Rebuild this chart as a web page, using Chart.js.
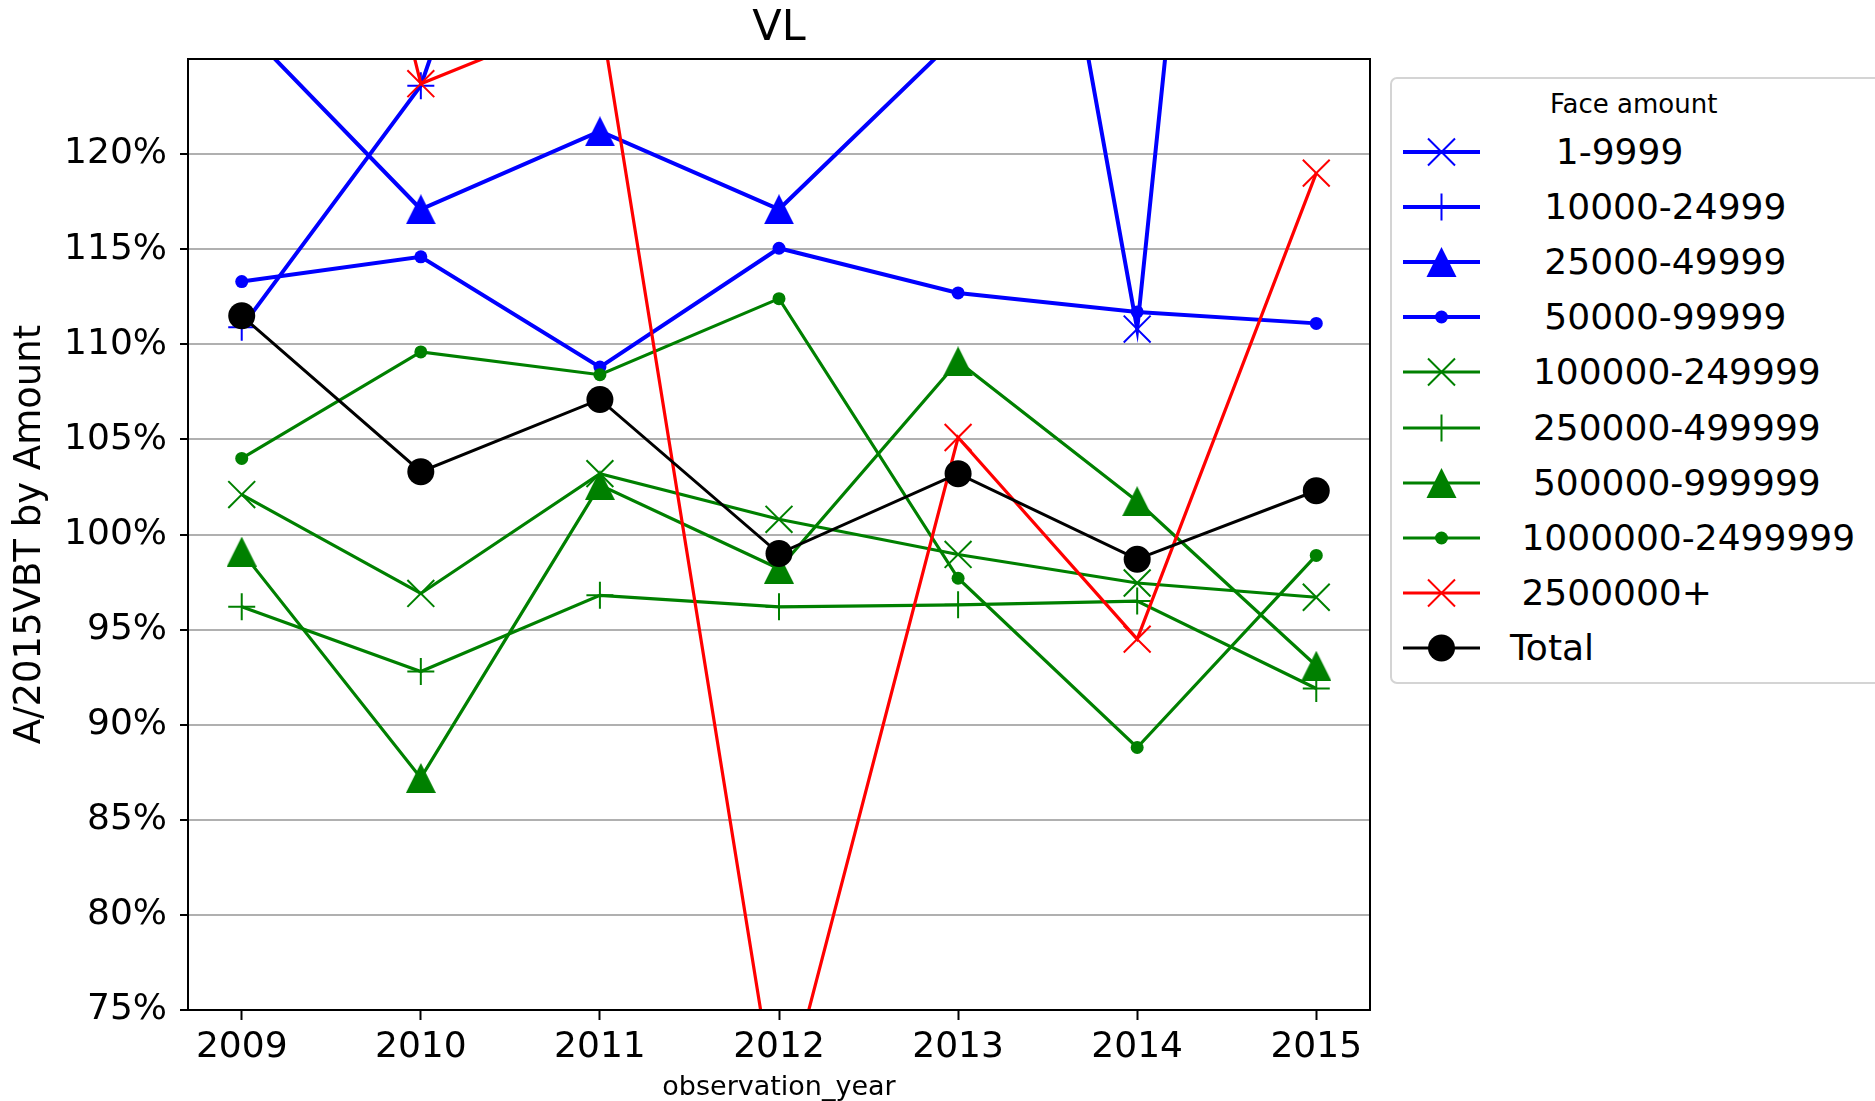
<!DOCTYPE html>
<html>
<head>
<meta charset="utf-8">
<script src="https://cdn.jsdelivr.net/npm/chart.js@4/dist/chart.umd.min.js"></script>
<style>
html,body{margin:0;padding:0;background:#fff;}
#wrap{position:relative;width:1875px;height:1101px;overflow:hidden;background:#fff;}
#c{position:absolute;left:0;top:0;}
#legend{position:absolute;left:1390px;top:77px;width:520px;height:607px;border:2px solid #d4d4d4;border-radius:7px;box-sizing:border-box;background:#fff;font-family:'DejaVu Sans';color:#000;}
#legend .ttl{position:absolute;white-space:pre;font-size:26px;line-height:30px;}
#legend .row{position:absolute;left:0;height:40px;}
#legend .row svg{position:absolute;left:11px;top:0;}
#legend .row span{position:absolute;left:118px;top:0;white-space:pre;font-size:36px;line-height:40px;}
</style>
</head>
<body>
<div id="wrap">
  <canvas id="c" width="1875" height="1101"></canvas>
  <div id="legend"></div>
</div>
<script>
// ---- data ----
const years = [2009, 2010, 2011, 2012, 2013, 2014, 2015];
const yTickValues = [75, 80, 85, 90, 95, 100, 105, 110, 115, 120];
const chartTitle = 'VL';
const xTitle = 'observation_year';
const yTitle = 'A/2015VBT by Amount';
const legendTitle = 'Face amount';
const seriesNames = ['1-9999', '10000-24999', '25000-49999', '50000-99999', '100000-249999',
  '250000-499999', '500000-999999', '1000000-2499999', '2500000+', 'Total'];
const labelIndent = [4, 3, 3, 3, 2, 2, 2, 1, 1, 0];

// values in percent (off-chart values estimated from line slopes; null = not visible)
const s1_9999        = [null, null, null, null, 163.0, 110.8, 202.0];
const s10000_24999   = [110.9, 123.6, 151.0, null, null, null, null];
const s25000_49999   = [126.8, 117.1, 121.2, 117.1, 126.2, null, null];
const s50000_99999   = [113.3, 114.6, 108.8, 115.05, 112.7, 111.7, 111.1];
const s100000_249999 = [102.1, 96.9, 103.2, 100.8, 98.95, 97.45, 96.7];
const s250000_499999 = [96.2, 92.8, 96.8, 96.2, 96.3, 96.5, 91.9];
const s500000_999999 = [99.1, 87.2, 102.6, 98.2, 109.1, 101.75, 93.1];
const s1000000_2499999 = [104.0, 109.6, 108.4, 112.4, 97.7, 88.8, 98.9];
const s2500000plus   = [162.0, 123.7, 127.5, 69.0, 105.1, 94.5, 119.0];
const sTotal         = [111.5, 103.3, 107.1, 99.0, 103.2, 98.7, 102.3];

const seriesValues = [s1_9999, s10000_24999, s25000_49999, s50000_99999, s100000_249999,
  s250000_499999, s500000_999999, s1000000_2499999, s2500000plus, sTotal];

// ---- styles ----
const BLUE = '#0000ff', GREEN = '#008000', RED = '#ff0000', BLACK = '#000000';
const colors = [BLUE, BLUE, BLUE, BLUE, GREEN, GREEN, GREEN, GREEN, RED, BLACK];
const markers = ['x', '+', '^', 'o', 'x', '+', '^', 'o', 'x', 'O'];
const lineWidths = [4, 4, 4, 4, 3.2, 3.2, 3.2, 3.2, 3.2, 3];

function triCanvas(color) {
  const c = document.createElement('canvas');
  c.width = 30; c.height = 30;
  const g = c.getContext('2d');
  g.fillStyle = color;
  g.beginPath(); g.moveTo(15, 0); g.lineTo(0, 30); g.lineTo(30, 30); g.closePath(); g.fill();
  return c;
}
function markerOpts(m, color) {
  if (m === 'x') return {pointStyle: 'crossRot', pointRadius: 19, pointBorderWidth: 2};
  if (m === '+') return {pointStyle: 'cross', pointRadius: 13.5, pointBorderWidth: 2};
  if (m === '^') return {pointStyle: triCanvas(color), pointRadius: 15, pointBorderWidth: 0};
  if (m === 'o') return {pointStyle: 'circle', pointRadius: 6.5, pointBorderWidth: 0};
  return {pointStyle: 'circle', pointRadius: 13.5, pointBorderWidth: 0};
}

const n = seriesNames.length;
const datasets = seriesNames.map((name, i) => Object.assign({
  label: name,
  data: years.map((yr, j) => ({x: yr, y: seriesValues[i][j]})),
  borderColor: colors[i],
  backgroundColor: colors[i],
  pointBorderColor: colors[i],
  pointBackgroundColor: colors[i],
  borderWidth: lineWidths[i],
  tension: 0,
  spanGaps: false,
  order: n - i
}, markerOpts(markers[i], colors[i])));

const framePlugin = {
  id: 'frame',
  afterDatasetsDraw(chart) {
    const a = chart.chartArea, ctx = chart.ctx;
    ctx.save();
    ctx.strokeStyle = '#000'; ctx.lineWidth = 2;
    ctx.strokeRect(a.left, a.top, a.right - a.left, a.bottom - a.top);
    ctx.restore();
  }
};

Chart.defaults.font.family = "'DejaVu Sans'";
Chart.defaults.color = '#000';

new Chart(document.getElementById('c'), {
  type: 'line',
  data: {datasets},
  plugins: [framePlugin],
  options: {
    responsive: false,
    animation: false,
    events: [],
    layout: {padding: {left: 0, top: 0, right: 505, bottom: 0}},
    plugins: {
      legend: {display: false},
      tooltip: {enabled: false},
      title: {display: true, text: chartTitle, fullSize: false, color: '#000',
        font: {size: 43, weight: 'normal', lineHeight: 1.2}, padding: {top: 3, bottom: 4.4}}
    },
    scales: {
      x: {
        type: 'linear', min: 2008.7, max: 2015.3,
        afterBuildTicks: s => { s.ticks = years.map(v => ({value: v})); },
        afterFit: s => { s.height = 91; },
        ticks: {callback: v => String(v), font: {size: 36}, color: '#000', padding: 6, maxRotation: 0, autoSkip: false},
        grid: {drawOnChartArea: false, drawTicks: true, tickLength: 10, tickColor: '#000', tickWidth: 2},
        border: {display: true, color: '#000', width: 2},
        title: {display: true, text: xTitle, color: '#000', font: {size: 27, lineHeight: 1.0}, padding: {top: 0, bottom: 0}}
      },
      y: {
        type: 'linear', min: 75, max: 125,
        afterBuildTicks: s => { s.ticks = yTickValues.map(v => ({value: v})); },
        afterFit: s => { s.width = 188; },
        ticks: {callback: v => v + '%', font: {size: 36}, color: '#000', padding: 13},
        grid: {color: '#b0b0b0', lineWidth: 2, drawTicks: true, tickLength: 8, tickColor: '#000', tickWidth: 2},
        border: {display: true, color: '#000', width: 2},
        title: {display: true, text: yTitle, color: '#000', font: {size: 37}, padding: {top: 8, bottom: 0}}
      }
    }
  }
});

// ---- legend (HTML) ----
function symbolSVG(m, color, lw) {
  const W = 77, H = 40, cx = 38.5, cy = 20;
  let mk = '';
  if (m === 'x') mk = `<path d="M${cx-13.5} ${cy-13.5}L${cx+13.5} ${cy+13.5}M${cx-13.5} ${cy+13.5}L${cx+13.5} ${cy-13.5}" stroke="${color}" stroke-width="2"/>`;
  else if (m === '+') mk = `<path d="M${cx-13.5} ${cy}L${cx+13.5} ${cy}M${cx} ${cy-13.5}L${cx} ${cy+13.5}" stroke="${color}" stroke-width="2"/>`;
  else if (m === '^') mk = `<polygon points="${cx},${cy-15} ${cx-15},${cy+15} ${cx+15},${cy+15}" fill="${color}"/>`;
  else if (m === 'o') mk = `<circle cx="${cx}" cy="${cy}" r="6.5" fill="${color}"/>`;
  else mk = `<circle cx="${cx}" cy="${cy}" r="13.5" fill="${color}"/>`;
  return `<svg width="${W}" height="${H}" viewBox="0 0 ${W} ${H}"><line x1="0" y1="${cy}" x2="${W}" y2="${cy}" stroke="${color}" stroke-width="${lw}"/>${mk}</svg>`;
}
const leg = document.getElementById('legend');
let html = `<div class="ttl" style="left:158px;top:10px;">${legendTitle}</div>`;
seriesNames.forEach((name, i) => {
  const top = 73 + 55.1 * i - 20;
  html += `<div class="row" style="top:${top}px;">${symbolSVG(markers[i], colors[i], lineWidths[i])}<span>${' '.repeat(labelIndent[i])}${name}</span></div>`;
});
leg.innerHTML = html;
</script>
</body>
</html>
